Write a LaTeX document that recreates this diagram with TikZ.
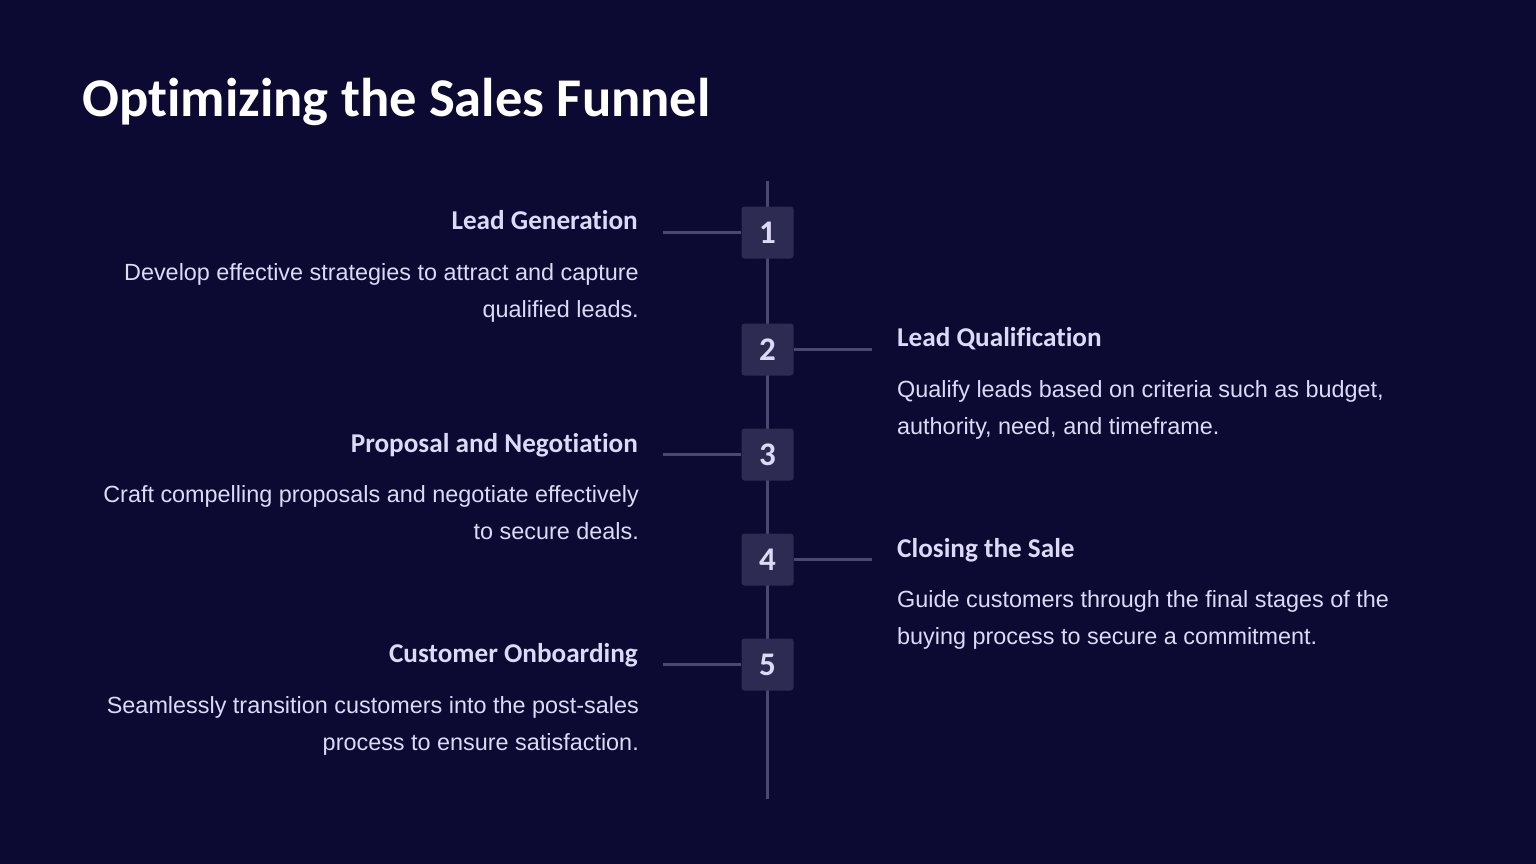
\documentclass[tikz,border=0pt]{standalone}
\usepackage{fontspec}
\setmainfont{Liberation Sans}[Ligatures=NoCommon]
\newfontfamily\headfont{Carlito}[Ligatures={NoCommon,NoContextual}]
\definecolor{bgc}{HTML}{0C0A32}
\definecolor{boxc}{HTML}{2E2B52}
\definecolor{linec}{HTML}{4A4872}
\definecolor{txtc}{HTML}{DCDAF6}
\tikzset{
  numbox/.style={fill=boxc, rounded corners=3pt, minimum width=52pt, minimum height=52pt, inner sep=0pt,
    text=txtc, font=\headfont\bfseries\fontsize{33}{33}\selectfont},
  conn/.style={draw=linec, line width=3pt},
  head/.style={inner sep=0pt, text=txtc, font=\headfont\bfseries\fontsize{27.2}{30}\selectfont},
  body/.style={inner sep=0pt, text=txtc, font=\fontsize{23.4}{28}\selectfont},
  ttl/.style={inner sep=0pt, text=white, font=\headfont\bfseries\fontsize{54.6}{60}\selectfont}
}
\begin{document}
\begin{tikzpicture}[x=1pt,y=-1pt]
\fill[bgc] (0,0) rectangle (1536,864);
\useasboundingbox (0,0) rectangle (1536,864);
\node[ttl, anchor=base west] (title) at (82,116.5) {Optimizing the Sales Funnel};
% spine
\coordinate (top) at (767.5,181);
\coordinate (bot) at (767.5,799);
\draw[conn] (top) -- (bot);
% boxes
\node[numbox] (b1) at (767.5,232.5) {1};
\node[numbox] (b2) at (767.5,349.5) {2};
\node[numbox] (b3) at (767.5,454.5) {3};
\node[numbox] (b4) at (767.5,559.5) {4};
\node[numbox] (b5) at (767.5,664.5) {5};
% connector ends
\coordinate (c1) at (663,232.5);
\coordinate (c2) at (872,349.5);
\coordinate (c3) at (663,454.5);
\coordinate (c4) at (872,559.5);
\coordinate (c5) at (663,664.5);
\draw[conn] (c1) -- (b1.west);
\draw[conn] (b2.east) -- (c2);
\draw[conn] (c3) -- (b3.west);
\draw[conn] (b4.east) -- (c4);
\draw[conn] (c5) -- (b5.west);
% step 1
\node[head, anchor=base east] (h1) at (638,229) {Lead Generation};
\node[body, anchor=base east] (t1a) at (639,280) {Develop effective strategies to attract and capture};
\node[body, anchor=base east] (t1b) at (639,317) {qualified leads.};
% step 2
\node[head, anchor=base west] (h2) at (897,346) {Lead Qualification};
\node[body, anchor=base west] (t2a) at (897,397) {Qualify leads based on criteria such as budget,};
\node[body, anchor=base west] (t2b) at (897,434) {authority, need, and timeframe.};
% step 3
\node[head, anchor=base east] (h3) at (638,452) {Proposal and Negotiation};
\node[body, anchor=base east] (t3a) at (639,502) {Craft compelling proposals and negotiate effectively};
\node[body, anchor=base east] (t3b) at (639,539) {to secure deals.};
% step 4
\node[head, anchor=base west] (h4) at (897,557) {Closing the Sale};
\node[body, anchor=base west] (t4a) at (897,607) {Guide customers through the final stages of the};
\node[body, anchor=base west] (t4b) at (897,644) {buying process to secure a commitment.};
% step 5
\node[head, anchor=base east] (h5) at (638,662) {Customer Onboarding};
\node[body, anchor=base east] (t5a) at (639,713) {Seamlessly transition customers into the post-sales};
\node[body, anchor=base east] (t5b) at (639,750) {process to ensure satisfaction.};
\end{tikzpicture}
\end{document}
